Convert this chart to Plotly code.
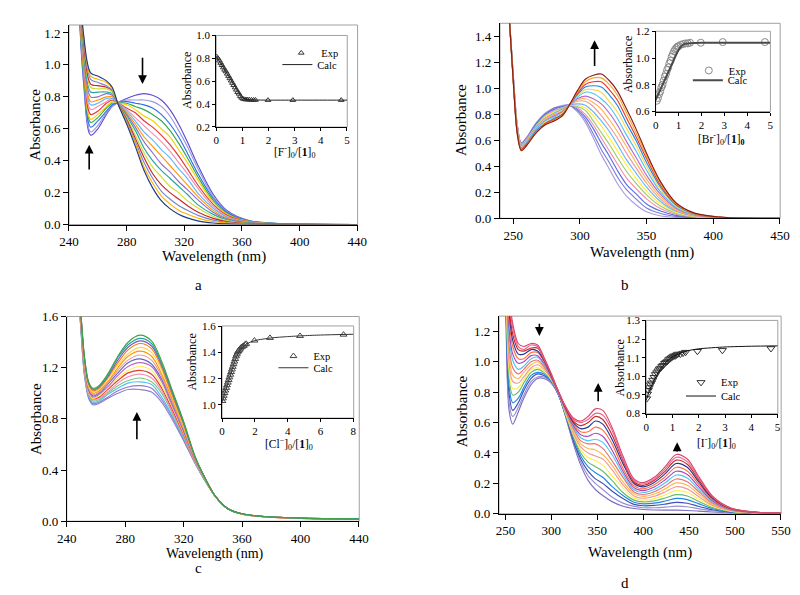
import plotly.graph_objects as go

FONT = "Liberation Serif, Times New Roman, DejaVu Serif, serif"
W, H = 800, 595

# ---------------- Panel a (F-) : rows = wavelength, columns = successive spectra
wl_a = [246, 250, 255, 260, 266, 270, 274, 280, 286, 292, 298, 304, 310, 316, 322, 330, 340, 350, 365, 390, 440]
abs_a = [
    [1.55, 1.56, 1.58, 1.59, 1.61, 1.62, 1.63, 1.65, 1.66, 1.68, 1.69, 1.70, 1.72, 1.73, 1.74, 1.75],
    [0.90, 0.92, 0.94, 0.96, 0.98, 1.01, 1.03, 1.05, 1.07, 1.09, 1.11, 1.13, 1.15, 1.17, 1.19, 1.20],
    [0.56, 0.58, 0.61, 0.64, 0.66, 0.69, 0.72, 0.75, 0.77, 0.80, 0.83, 0.86, 0.88, 0.91, 0.93, 0.95],
    [0.60, 0.62, 0.65, 0.67, 0.69, 0.71, 0.74, 0.76, 0.78, 0.80, 0.83, 0.85, 0.87, 0.89, 0.91, 0.93],
    [0.69, 0.70, 0.71, 0.73, 0.74, 0.76, 0.77, 0.79, 0.80, 0.82, 0.83, 0.85, 0.86, 0.87, 0.89, 0.90],
    [0.74, 0.74, 0.75, 0.76, 0.77, 0.78, 0.79, 0.79, 0.80, 0.81, 0.82, 0.83, 0.84, 0.84, 0.85, 0.86],
    [0.765, 0.764, 0.764, 0.763, 0.762, 0.762, 0.761, 0.760, 0.759, 0.759, 0.758, 0.757, 0.757, 0.756, 0.756, 0.755],
    [0.79, 0.78, 0.77, 0.76, 0.75, 0.73, 0.72, 0.71, 0.70, 0.69, 0.68, 0.67, 0.66, 0.65, 0.64, 0.63],
    [0.81, 0.78, 0.76, 0.74, 0.72, 0.70, 0.67, 0.65, 0.63, 0.61, 0.59, 0.56, 0.54, 0.52, 0.51, 0.49],
    [0.82, 0.78, 0.75, 0.72, 0.68, 0.65, 0.62, 0.58, 0.55, 0.52, 0.48, 0.45, 0.42, 0.39, 0.36, 0.34],
    [0.81, 0.77, 0.73, 0.69, 0.65, 0.61, 0.57, 0.53, 0.49, 0.45, 0.40, 0.36, 0.32, 0.29, 0.26, 0.23],
    [0.78, 0.74, 0.69, 0.65, 0.60, 0.56, 0.52, 0.47, 0.43, 0.38, 0.34, 0.30, 0.25, 0.21, 0.18, 0.15],
    [0.72, 0.68, 0.63, 0.59, 0.55, 0.50, 0.46, 0.42, 0.37, 0.33, 0.29, 0.24, 0.20, 0.16, 0.13, 0.10],
    [0.63, 0.59, 0.55, 0.51, 0.47, 0.43, 0.39, 0.35, 0.31, 0.27, 0.24, 0.20, 0.16, 0.12, 0.09, 0.065],
    [0.52, 0.49, 0.45, 0.42, 0.39, 0.35, 0.32, 0.29, 0.25, 0.22, 0.19, 0.15, 0.12, 0.09, 0.066, 0.042],
    [0.36, 0.34, 0.31, 0.29, 0.27, 0.24, 0.22, 0.19, 0.17, 0.15, 0.12, 0.10, 0.076, 0.056, 0.039, 0.022],
    [0.19, 0.177, 0.165, 0.152, 0.14, 0.127, 0.114, 0.102, 0.089, 0.077, 0.064, 0.051, 0.039, 0.028, 0.019, 0.01],
    [0.085, 0.079, 0.074, 0.068, 0.063, 0.057, 0.051, 0.046, 0.04, 0.035, 0.029, 0.023, 0.018, 0.013, 0.009, 0.005],
    [0.025, 0.023, 0.022, 0.02, 0.019, 0.017, 0.015, 0.014, 0.012, 0.011, 0.009, 0.007, 0.006, 0.004, 0.003, 0.002],
    [0.005, 0.005, 0.004, 0.004, 0.004, 0.004, 0.003, 0.003, 0.003, 0.003, 0.002, 0.002, 0.002, 0.002, 0.001, 0.001],
    [0.0, 0.0, 0.0, 0.0, 0.0, 0.0, 0.0, 0.0, 0.0, 0.0, 0.0, 0.0, 0.0, 0.0, 0.0, 0.0],
]
ratio_a = [0.02, 0.07, 0.12, 0.17, 0.22, 0.27, 0.32, 0.37, 0.42, 0.47, 0.52, 0.57, 0.62, 0.67, 0.72, 0.77,
           0.82, 0.87, 0.92, 0.97, 1.02, 1.08, 1.14, 1.20, 1.27, 1.35, 1.43, 1.50, 1.98, 2.93, 4.78]
exp_a = [0.815, 0.80, 0.78, 0.76, 0.74, 0.72, 0.70, 0.685, 0.665, 0.645, 0.625, 0.605, 0.585, 0.565, 0.545, 0.525,
         0.505, 0.49, 0.47, 0.455, 0.447, 0.442, 0.44, 0.44, 0.438, 0.437, 0.436, 0.436, 0.435, 0.435, 0.435]
calc_x_a = [0, 0.5, 0.9, 1.0, 1.1, 1.3, 1.6, 2.0, 3.0, 5.0]
calc_a = [0.82, 0.635, 0.49, 0.46, 0.445, 0.438, 0.436, 0.435, 0.435, 0.435]

# ---------------- Panel b (Br-)
wl_b = [246, 250, 253, 256, 260, 267, 274, 281, 287, 292, 298, 304, 310, 316, 322, 328, 335, 342, 350, 360, 372, 386, 405, 450]
abs_b = [
    [1.70, 1.70, 1.70, 1.70, 1.70, 1.70, 1.70, 1.70, 1.70, 1.70, 1.70, 1.70, 1.70, 1.70, 1.70, 1.70],
    [1.10, 1.10, 1.09, 1.09, 1.09, 1.08, 1.08, 1.08, 1.07, 1.07, 1.07, 1.06, 1.06, 1.06, 1.05, 1.05],
    [0.72, 0.72, 0.71, 0.71, 0.70, 0.70, 0.69, 0.69, 0.68, 0.68, 0.67, 0.67, 0.66, 0.66, 0.65, 0.65],
    [0.58, 0.58, 0.57, 0.57, 0.56, 0.56, 0.56, 0.55, 0.55, 0.54, 0.54, 0.53, 0.53, 0.53, 0.52, 0.52],
    [0.62, 0.62, 0.61, 0.61, 0.60, 0.60, 0.60, 0.59, 0.59, 0.58, 0.58, 0.57, 0.57, 0.57, 0.56, 0.56],
    [0.73, 0.73, 0.72, 0.71, 0.71, 0.70, 0.70, 0.69, 0.69, 0.68, 0.68, 0.67, 0.67, 0.66, 0.66, 0.655],
    [0.81, 0.80, 0.80, 0.79, 0.79, 0.78, 0.77, 0.77, 0.76, 0.75, 0.75, 0.74, 0.73, 0.73, 0.72, 0.72],
    [0.85, 0.85, 0.84, 0.83, 0.82, 0.82, 0.81, 0.80, 0.80, 0.79, 0.78, 0.77, 0.77, 0.76, 0.755, 0.75],
    [0.87, 0.86, 0.86, 0.85, 0.85, 0.84, 0.84, 0.83, 0.82, 0.82, 0.81, 0.81, 0.80, 0.80, 0.79, 0.79],
    [0.87, 0.87, 0.87, 0.87, 0.87, 0.87, 0.87, 0.87, 0.87, 0.87, 0.87, 0.87, 0.87, 0.87, 0.87, 0.87],
    [0.82, 0.83, 0.84, 0.85, 0.86, 0.87, 0.88, 0.90, 0.91, 0.92, 0.93, 0.94, 0.95, 0.96, 0.97, 0.98],
    [0.74, 0.76, 0.78, 0.80, 0.83, 0.85, 0.87, 0.90, 0.92, 0.94, 0.97, 0.99, 1.01, 1.03, 1.05, 1.07],
    [0.62, 0.65, 0.69, 0.72, 0.75, 0.79, 0.82, 0.86, 0.89, 0.92, 0.96, 0.99, 1.02, 1.05, 1.08, 1.10],
    [0.49, 0.53, 0.58, 0.62, 0.66, 0.71, 0.75, 0.79, 0.84, 0.88, 0.92, 0.97, 1.01, 1.05, 1.08, 1.11],
    [0.38, 0.43, 0.48, 0.52, 0.57, 0.62, 0.67, 0.71, 0.76, 0.81, 0.86, 0.90, 0.95, 0.99, 1.03, 1.06],
    [0.27, 0.32, 0.37, 0.42, 0.47, 0.52, 0.57, 0.62, 0.67, 0.72, 0.77, 0.82, 0.87, 0.91, 0.95, 0.98],
    [0.17, 0.22, 0.26, 0.31, 0.36, 0.41, 0.45, 0.50, 0.55, 0.59, 0.64, 0.69, 0.73, 0.77, 0.81, 0.84],
    [0.105, 0.15, 0.19, 0.23, 0.27, 0.31, 0.35, 0.39, 0.43, 0.47, 0.52, 0.56, 0.60, 0.63, 0.66, 0.69],
    [0.05, 0.08, 0.11, 0.15, 0.18, 0.21, 0.24, 0.27, 0.30, 0.33, 0.37, 0.40, 0.43, 0.46, 0.48, 0.50],
    [0.02, 0.039, 0.058, 0.077, 0.096, 0.115, 0.133, 0.152, 0.171, 0.19, 0.209, 0.228, 0.247, 0.263, 0.277, 0.29],
    [0.007, 0.015, 0.023, 0.031, 0.039, 0.047, 0.054, 0.062, 0.07, 0.078, 0.086, 0.094, 0.102, 0.109, 0.114, 0.12],
    [0.002, 0.005, 0.007, 0.01, 0.013, 0.015, 0.018, 0.021, 0.023, 0.026, 0.029, 0.031, 0.034, 0.036, 0.038, 0.04],
    [0.0, 0.001, 0.001, 0.002, 0.003, 0.004, 0.004, 0.005, 0.006, 0.006, 0.007, 0.008, 0.008, 0.009, 0.01, 0.01],
    [0.0, 0.0, 0.0, 0.0, 0.0, 0.0, 0.0, 0.0, 0.0, 0.0, 0.0, 0.0, 0.0, 0.0, 0.0, 0.0],
]
ratio_b = [0.05, 0.10, 0.15, 0.20, 0.25, 0.30, 0.35, 0.40, 0.45, 0.50, 0.55, 0.60, 0.65, 0.70, 0.75, 0.80,
           0.85, 0.90, 0.95, 1.00, 1.10, 1.20, 1.30, 1.40, 1.50, 1.97, 2.93, 4.77]
exp_b = [0.68, 0.70, 0.73, 0.75, 0.78, 0.80, 0.83, 0.86, 0.88, 0.91, 0.93, 0.96, 0.98, 1.01, 1.03, 1.05,
         1.065, 1.075, 1.085, 1.09, 1.10, 1.105, 1.11, 1.11, 1.115, 1.115, 1.12, 1.12]
calc_x_b = [0, 0.25, 0.5, 0.75, 1.0, 1.1, 1.2, 1.3, 1.5, 2.0, 3.0, 5.0]
calc_b = [0.685, 0.78, 0.875, 0.97, 1.06, 1.085, 1.10, 1.107, 1.112, 1.115, 1.115, 1.115]

# ---------------- Panel c (Cl-)
wl_c = [246, 249, 252, 255, 258, 262, 268, 275, 282, 290, 298, 305, 312, 320, 328, 335, 342, 350, 360, 375, 400, 440]
abs_c = [
    [1.90, 1.90, 1.90, 1.90, 1.90, 1.90, 1.90, 1.90, 1.90, 1.90, 1.90, 1.90, 1.90, 1.90, 1.90, 1.90],
    [1.60, 1.61, 1.61, 1.62, 1.63, 1.64, 1.64, 1.65, 1.66, 1.66, 1.67, 1.68, 1.68, 1.69, 1.70, 1.70],
    [1.15, 1.16, 1.17, 1.18, 1.19, 1.20, 1.21, 1.22, 1.23, 1.24, 1.26, 1.27, 1.28, 1.29, 1.29, 1.30],
    [0.96, 0.97, 0.98, 0.99, 1.00, 1.01, 1.01, 1.02, 1.03, 1.04, 1.05, 1.06, 1.07, 1.08, 1.08, 1.09],
    [0.91, 0.92, 0.93, 0.94, 0.95, 0.96, 0.96, 0.97, 0.98, 0.99, 1.00, 1.01, 1.02, 1.03, 1.03, 1.04],
    [0.92, 0.93, 0.94, 0.95, 0.96, 0.97, 0.98, 0.99, 1.00, 1.01, 1.02, 1.03, 1.04, 1.05, 1.05, 1.06],
    [0.96, 0.97, 0.99, 1.00, 1.01, 1.03, 1.04, 1.05, 1.07, 1.08, 1.09, 1.11, 1.12, 1.13, 1.14, 1.15],
    [1.00, 1.02, 1.04, 1.06, 1.08, 1.10, 1.12, 1.14, 1.16, 1.18, 1.20, 1.22, 1.24, 1.26, 1.28, 1.29],
    [1.03, 1.05, 1.08, 1.10, 1.13, 1.16, 1.18, 1.21, 1.24, 1.26, 1.29, 1.31, 1.34, 1.36, 1.38, 1.40],
    [1.03, 1.06, 1.09, 1.12, 1.15, 1.18, 1.21, 1.24, 1.27, 1.30, 1.33, 1.36, 1.39, 1.41, 1.43, 1.455],
    [1.01, 1.04, 1.07, 1.09, 1.12, 1.15, 1.18, 1.21, 1.23, 1.26, 1.29, 1.32, 1.35, 1.37, 1.39, 1.41],
    [0.93, 0.95, 0.97, 1.00, 1.02, 1.04, 1.06, 1.09, 1.11, 1.13, 1.15, 1.18, 1.20, 1.22, 1.23, 1.25],
    [0.80, 0.82, 0.83, 0.85, 0.86, 0.88, 0.90, 0.91, 0.93, 0.94, 0.96, 0.98, 0.99, 1.01, 1.02, 1.03],
    [0.63, 0.64, 0.65, 0.66, 0.67, 0.68, 0.69, 0.70, 0.71, 0.72, 0.735, 0.745, 0.756, 0.765, 0.773, 0.78],
    [0.45, 0.45, 0.46, 0.46, 0.46, 0.47, 0.47, 0.47, 0.48, 0.48, 0.485, 0.49, 0.49, 0.495, 0.50, 0.50],
    [0.31, 0.31, 0.31, 0.31, 0.32, 0.32, 0.32, 0.32, 0.32, 0.32, 0.32, 0.33, 0.33, 0.33, 0.33, 0.33],
    [0.19, 0.19, 0.19, 0.19, 0.19, 0.19, 0.19, 0.19, 0.19, 0.19, 0.19, 0.19, 0.19, 0.19, 0.19, 0.19],
    [0.10, 0.10, 0.10, 0.10, 0.10, 0.10, 0.10, 0.10, 0.10, 0.10, 0.10, 0.10, 0.10, 0.10, 0.10, 0.10],
    [0.055, 0.055, 0.055, 0.056, 0.056, 0.056, 0.056, 0.056, 0.057, 0.057, 0.057, 0.057, 0.057, 0.058, 0.058, 0.058],
    [0.035, 0.035, 0.035, 0.035, 0.036, 0.036, 0.036, 0.036, 0.036, 0.036, 0.036, 0.037, 0.037, 0.037, 0.037, 0.037],
    [0.022, 0.022, 0.022, 0.022, 0.023, 0.023, 0.023, 0.023, 0.023, 0.023, 0.023, 0.024, 0.024, 0.024, 0.024, 0.024],
    [0.015, 0.015, 0.015, 0.016, 0.016, 0.016, 0.016, 0.016, 0.017, 0.017, 0.017, 0.017, 0.017, 0.018, 0.018, 0.018],
]
ratio_c = [0.02, 0.06, 0.10, 0.15, 0.20, 0.25, 0.30, 0.35, 0.40, 0.45, 0.50, 0.55, 0.60, 0.65, 0.70, 0.75,
           0.80, 0.85, 0.90, 0.95, 1.00, 1.06, 1.12, 1.18, 1.25, 1.32, 1.40, 1.47, 1.97, 2.92, 4.75, 7.40]
exp_c = [1.03, 1.05, 1.07, 1.09, 1.11, 1.13, 1.15, 1.17, 1.19, 1.21, 1.23, 1.25, 1.27, 1.29, 1.31, 1.33,
         1.35, 1.37, 1.385, 1.40, 1.41, 1.42, 1.43, 1.44, 1.445, 1.45, 1.46, 1.465, 1.49, 1.51, 1.525, 1.535]
calc_x_c = [0, 0.25, 0.5, 0.75, 1.0, 1.25, 1.5, 2, 3, 4, 5, 6, 8]
calc_c = [1.02, 1.12, 1.22, 1.32, 1.40, 1.44, 1.465, 1.49, 1.51, 1.52, 1.527, 1.532, 1.538]

# ---------------- Panel d (I-)
wl_d = [246, 250, 254, 258, 264, 270, 278, 285, 292, 300, 308, 316, 324, 332, 340, 348, 356, 366, 378, 390,
        400, 412, 424, 436, 448, 460, 475, 495, 520, 550]
abs_d = [
    [2.00, 2.01, 2.03, 2.04, 2.06, 2.07, 2.08, 2.10, 2.11, 2.13, 2.14, 2.15, 2.17, 2.18, 2.19, 2.20],
    [1.45, 1.47, 1.50, 1.52, 1.55, 1.57, 1.60, 1.62, 1.65, 1.67, 1.70, 1.72, 1.74, 1.77, 1.78, 1.80],
    [0.68, 0.73, 0.79, 0.84, 0.90, 0.95, 1.00, 1.06, 1.11, 1.17, 1.22, 1.27, 1.33, 1.37, 1.41, 1.45],
    [0.59, 0.64, 0.68, 0.73, 0.78, 0.82, 0.87, 0.91, 0.96, 1.01, 1.05, 1.10, 1.14, 1.18, 1.22, 1.25],
    [0.67, 0.70, 0.73, 0.76, 0.80, 0.83, 0.86, 0.89, 0.92, 0.95, 0.99, 1.02, 1.05, 1.08, 1.10, 1.12],
    [0.76, 0.78, 0.81, 0.83, 0.86, 0.88, 0.90, 0.93, 0.95, 0.97, 1.00, 1.02, 1.05, 1.07, 1.08, 1.10],
    [0.85, 0.87, 0.89, 0.91, 0.93, 0.95, 0.96, 0.98, 1.00, 1.02, 1.04, 1.06, 1.08, 1.09, 1.11, 1.12],
    [0.89, 0.90, 0.92, 0.93, 0.95, 0.96, 0.98, 1.00, 1.01, 1.03, 1.04, 1.06, 1.07, 1.09, 1.10, 1.11],
    [0.89, 0.90, 0.91, 0.92, 0.93, 0.94, 0.95, 0.96, 0.97, 0.98, 0.99, 1.00, 1.01, 1.02, 1.02, 1.03],
    [0.86, 0.86, 0.87, 0.87, 0.88, 0.88, 0.89, 0.89, 0.89, 0.90, 0.90, 0.91, 0.91, 0.91, 0.92, 0.92],
    [0.78, 0.78, 0.78, 0.78, 0.79, 0.79, 0.79, 0.79, 0.79, 0.79, 0.79, 0.80, 0.80, 0.80, 0.80, 0.80],
    [0.63, 0.63, 0.64, 0.64, 0.65, 0.65, 0.66, 0.66, 0.67, 0.67, 0.68, 0.68, 0.69, 0.69, 0.70, 0.70],
    [0.46, 0.47, 0.48, 0.50, 0.51, 0.52, 0.53, 0.54, 0.56, 0.57, 0.58, 0.59, 0.60, 0.61, 0.62, 0.63],
    [0.32, 0.34, 0.36, 0.38, 0.40, 0.42, 0.44, 0.46, 0.48, 0.50, 0.52, 0.54, 0.56, 0.58, 0.60, 0.61],
    [0.22, 0.25, 0.28, 0.31, 0.34, 0.37, 0.40, 0.43, 0.46, 0.48, 0.51, 0.54, 0.57, 0.60, 0.62, 0.64],
    [0.16, 0.20, 0.23, 0.27, 0.31, 0.35, 0.38, 0.42, 0.46, 0.49, 0.53, 0.57, 0.61, 0.64, 0.66, 0.69],
    [0.12, 0.16, 0.20, 0.24, 0.28, 0.32, 0.36, 0.39, 0.43, 0.47, 0.51, 0.55, 0.59, 0.62, 0.65, 0.68],
    [0.08, 0.11, 0.15, 0.18, 0.22, 0.25, 0.29, 0.32, 0.35, 0.39, 0.42, 0.46, 0.49, 0.52, 0.55, 0.57],
    [0.05, 0.07, 0.10, 0.12, 0.14, 0.17, 0.19, 0.21, 0.24, 0.26, 0.28, 0.30, 0.33, 0.35, 0.36, 0.38],
    [0.035, 0.049, 0.062, 0.076, 0.090, 0.103, 0.117, 0.131, 0.144, 0.158, 0.172, 0.185, 0.199, 0.211, 0.220, 0.23],
    [0.028, 0.04, 0.053, 0.065, 0.078, 0.09, 0.102, 0.115, 0.127, 0.14, 0.152, 0.164, 0.177, 0.187, 0.196, 0.205],
    [0.025, 0.04, 0.055, 0.07, 0.085, 0.10, 0.115, 0.13, 0.145, 0.16, 0.176, 0.191, 0.206, 0.219, 0.229, 0.24],
    [0.024, 0.044, 0.064, 0.084, 0.104, 0.124, 0.144, 0.164, 0.184, 0.204, 0.224, 0.244, 0.264, 0.281, 0.296, 0.31],
    [0.024, 0.05, 0.075, 0.101, 0.126, 0.152, 0.178, 0.203, 0.229, 0.255, 0.28, 0.306, 0.331, 0.353, 0.372, 0.39],
    [0.022, 0.046, 0.069, 0.093, 0.117, 0.14, 0.164, 0.188, 0.211, 0.235, 0.259, 0.282, 0.306, 0.326, 0.343, 0.36],
    [0.018, 0.034, 0.05, 0.067, 0.083, 0.099, 0.115, 0.132, 0.148, 0.164, 0.18, 0.197, 0.213, 0.227, 0.238, 0.25],
    [0.012, 0.02, 0.027, 0.035, 0.042, 0.05, 0.057, 0.065, 0.072, 0.08, 0.088, 0.095, 0.103, 0.109, 0.115, 0.12],
    [0.006, 0.008, 0.011, 0.013, 0.016, 0.018, 0.02, 0.023, 0.025, 0.027, 0.03, 0.032, 0.035, 0.037, 0.038, 0.04],
    [0.003, 0.004, 0.004, 0.005, 0.006, 0.006, 0.007, 0.007, 0.008, 0.009, 0.009, 0.01, 0.011, 0.011, 0.012, 0.012],
    [0.001, 0.001, 0.001, 0.002, 0.002, 0.002, 0.002, 0.002, 0.003, 0.003, 0.003, 0.003, 0.004, 0.004, 0.004, 0.004],
]
ratio_d = [0.02, 0.05, 0.08, 0.12, 0.16, 0.20, 0.25, 0.30, 0.35, 0.40, 0.45, 0.50, 0.55, 0.60, 0.65, 0.70,
           0.75, 0.80, 0.85, 0.90, 0.95, 1.00, 1.05, 1.10, 1.15, 1.20, 1.30, 1.40, 1.50, 1.95, 2.90, 4.75]
exp_d = [0.88, 0.905, 0.925, 0.94, 0.955, 0.965, 0.98, 0.995, 1.01, 1.02, 1.03, 1.04, 1.045, 1.055, 1.06, 1.07,
         1.075, 1.08, 1.09, 1.095, 1.10, 1.105, 1.11, 1.11, 1.115, 1.12, 1.12, 1.125, 1.13, 1.135, 1.14, 1.15]
calc_x_d = [0, 0.1, 0.2, 0.3, 0.5, 0.75, 1.0, 1.5, 2, 3, 4, 5]
calc_d = [0.87, 0.915, 0.95, 0.98, 1.03, 1.075, 1.105, 1.135, 1.148, 1.158, 1.162, 1.164]

PAL_A = ['#5b4fcf', '#9d96e3', '#2c6fe8', '#34a853', '#f4d000', '#e53935', '#f48fb1', '#64b5f6',
         '#ff9800', '#8e6cc9', '#26a69a', '#cddc39', '#c62828', '#7986cb', '#ffb300', '#1e3a8a']
PAL_B = ['#a89be0', '#7b7fd8', '#5d6fe0', '#f48fb1', '#9ccc65', '#ffeb3b', '#64b5f6', '#ef9a9a',
         '#ffb74d', '#ba68c8', '#4fc3f7', '#ffd54f', '#1e88e5', '#e53935', '#f9a825', '#8b1a1a']
PAL_C = ['#8a84c8', '#9575cd', '#4fc3f7', '#81c784', '#f48fb1', '#e53935', '#ffee58', '#ba68c8',
         '#5c6bc0', '#ef9a9a', '#ff9800', '#ffd54f', '#f57f17', '#7e57c2', '#26a69a', '#43a047']
PAL_D = ['#7e6fc2', '#9a8fd6', '#3f51b5', '#1e88e5', '#66bb6a', '#ffee58', '#ef9a9a', '#ffb74d',
         '#e57373', '#4fc3f7', '#ab47bc', '#ff7043', '#283593', '#c62828', '#f06292', '#d84a6a']

fig = go.Figure()


def add_spectra(wl, table, n, pal):
    xa = 'x' if n == 1 else f'x{n}'
    ya = 'y' if n == 1 else f'y{n}'
    for k in range(len(table[0])):
        fig.add_trace(go.Scatter(x=wl, y=[row[k] for row in table], mode='lines',
                                 line=dict(color=pal[k % len(pal)], width=1.15, shape='spline', smoothing=0.9),
                                 xaxis=xa, yaxis=ya, showlegend=False, hoverinfo='skip'))


def add_inset(n, rx, ry, cx, cy, symbol, msize, mcolor, lcolor, lwidth, leg_e, leg_c):
    xa, ya = f'x{n}', f'y{n}'
    fig.add_trace(go.Scatter(x=rx, y=ry, mode='markers', name='Exp', legend=leg_e,
                             marker=dict(symbol=symbol, size=msize, color=mcolor, line=dict(color=mcolor, width=1)),
                             xaxis=xa, yaxis=ya))
    fig.add_trace(go.Scatter(x=cx, y=cy, mode='lines', name='Calc', legend=leg_c,
                             line=dict(color=lcolor, width=lwidth, shape='spline', smoothing=0.6),
                             xaxis=xa, yaxis=ya))


add_spectra(wl_a, abs_a, 1, PAL_A)
add_spectra(wl_b, abs_b, 3, PAL_B)
add_spectra(wl_c, abs_c, 5, PAL_C)
add_spectra(wl_d, abs_d, 7, PAL_D)
add_inset(2, ratio_a, exp_a, calc_x_a, calc_a, 'triangle-up-open', 5, '#333333', '#222222', 1, 'legend', 'legend2')
add_inset(4, ratio_b, exp_b, calc_x_b, calc_b, 'circle-open', 7, '#8a8a8a', '#4a4a4a', 2, 'legend3', 'legend4')
add_inset(6, ratio_c, exp_c, calc_x_c, calc_c, 'triangle-up-open', 6, '#444444', '#333333', 1, 'legend5', 'legend6')
add_inset(8, ratio_d, exp_d, calc_x_d, calc_d, 'triangle-down-open', 7, '#333333', '#111111', 1, 'legend7', 'legend8')

layout = dict(width=W, height=H, margin=dict(l=0, r=0, t=0, b=0), paper_bgcolor='white',
              plot_bgcolor='rgba(0,0,0,0)', font=dict(family=FONT, color='black'))


def px_dom_x(a, b):
    return [a / W, b / W]


def px_dom_y(top, bottom):
    return [1 - bottom / H, 1 - top / H]


def set_axes(n, xdom, ydom, xr, yr, xdt, ydt, fs, ticklen, xtick0=None, ytick0=None):
    xs = 'xaxis' if n == 1 else f'xaxis{n}'
    ys = 'yaxis' if n == 1 else f'yaxis{n}'
    common = dict(showline=True, linecolor='black', linewidth=1, ticks='outside', ticklen=ticklen,
                  tickwidth=1, tickcolor='black', showgrid=False, zeroline=False,
                  tickfont=dict(family=FONT, size=fs, color='black'))
    layout[xs] = dict(domain=xdom, range=xr, dtick=xdt, tick0=xtick0,
                      anchor='y' if n == 1 else f'y{n}', **common)
    layout[ys] = dict(domain=ydom, range=yr, dtick=ydt, tick0=ytick0, tickformat='.1f',
                      anchor='x' if n == 1 else f'x{n}', **common)


# main panels
set_axes(1, px_dom_x(52.3, 348.3), px_dom_y(10.25, 215), [240, 440.2], [0, 1.25], 40, 0.2, 13, 5)
set_axes(3, px_dom_x(494.3, 781.7), px_dom_y(8.5, 208.6), [240, 450.2], [0, 1.5], 50, 0.2, 13, 5, 250)
set_axes(5, px_dom_x(50, 350), px_dom_y(309.3, 519.3), [240, 440.2], [0, 1.601], 40, 0.4, 13, 5)
set_axes(7, px_dom_x(493.3, 782.7), px_dom_y(308.9, 511.7), [243, 550.2], [0, 1.3], 50, 0.2, 13, 5, 250)
# insets
set_axes(2, px_dom_x(203.3, 337.7), px_dom_y(21, 115), [0, 5.01], [0.199, 1.001], 1, 0.2, 11, 3)
set_axes(4, px_dom_x(654, 771.7), px_dom_y(16.7, 99), [0, 5.01], [0.599, 1.201], 1, 0.2, 11, 3)
set_axes(6, px_dom_x(209.3, 344.3), px_dom_y(319, 413.5), [0, 8.02], [0.9, 1.601], 2, 0.2, 11, 3)
set_axes(8, px_dom_x(644.3, 779.3), px_dom_y(313.3, 409), [0, 5.01], [0.799, 1.301], 1, 0.1, 11, 3)

# gray frames (top / right sides appear gray in the original)
shapes = []
for n in range(1, 9):
    xr = 'x domain' if n == 1 else f'x{n} domain'
    yr = 'y domain' if n == 1 else f'y{n} domain'
    shapes.append(dict(type='rect', xref=xr, yref=yr, x0=0, x1=1, y0=0, y1=1,
                       line=dict(color='#a0a0a0', width=1), layer='below'))
layout['shapes'] = shapes


def ann(text, xpx, ypx, size, angle=0):
    return dict(x=xpx / W, y=1 - ypx / H, xref='paper', yref='paper', text=text, showarrow=False,
                textangle=angle, xanchor='center', yanchor='middle',
                font=dict(family=FONT, size=size, color='black'))


def arrow(n, x, y0, y1):
    xa = 'x' if n == 1 else f'x{n}'
    ya = 'y' if n == 1 else f'y{n}'
    return dict(x=x, y=y1, ax=x, ay=y0, xref=xa, yref=ya, axref=xa, ayref=ya, text='',
                showarrow=True, arrowhead=2, arrowsize=1.1, arrowwidth=1.6, arrowcolor='black')


anns = [
    ann('Wavelength (nm)', 201, 248, 15), ann('Absorbance', 18, 113, 15, -90),
    ann('Wavelength (nm)', 640, 243.3, 15), ann('Absorbance', 455, 108, 15, -90),
    ann('Wavelength (nm)', 202, 553, 14), ann('Absorbance', 18, 415, 15, -90),
    ann('Wavelength (nm)', 638, 551.7, 15), ann('Absorbance', 455, 407, 15, -90),
    ann('Absorbance', 174, 67, 12, -90), ann('[F<sup>-</sup>]<sub>0</sub>/[<b>1</b>]<sub>0</sub>', 284, 141, 11.5),
    ann('Absorbance', 625, 51, 12, -90), ann('[Br<sup>-</sup>]<sub>0</sub>/[<b>1</b>]<sub><b>0</b></sub>', 722, 127, 11.5),
    ann('Absorbance', 178, 356, 12, -90), ann('[Cl<sup>−</sup>]<sub>0</sub>/[<b>1</b>]<sub>0</sub>', 278, 440, 11.5),
    ann('Absorbance', 617, 362, 12, -90), ann('[I<sup>-</sup>]<sub>0</sub>/[<b>1</b>]<sub>0</sub>', 716, 439, 11.5),
    ann('a', 185, 277, 15), ann('b', 622.7, 277, 15), ann('c', 185, 567, 15), ann('d', 622.7, 583, 15),
    arrow(1, 291, 1.055, 0.88), arrow(1, 254, 0.335, 0.50),
    arrow(3, 311, 1.16, 1.37),
    arrow(5, 288, 0.63, 0.855),
    arrow(7, 287, 1.26, 1.17), arrow(7, 351, 0.73, 0.86), arrow(7, 437, 0.40, 0.47),
]
layout['annotations'] = anns


def leg(xpx, ypx):
    return dict(x=xpx / W, y=1 - ypx / H, xanchor='left', yanchor='top', bgcolor='rgba(0,0,0,0)',
                borderwidth=0, font=dict(family=FONT, size=10.5, color='black'), itemwidth=30,
                tracegroupgap=0, itemclick=False)


layout['legend'] = leg(270, 24)
layout['legend2'] = leg(266, 36)
layout['legend3'] = leg(688, 42)
layout['legend4'] = leg(687, 52)
layout['legend5'] = leg(262, 335)
layout['legend6'] = leg(262, 347)
layout['legend7'] = leg(680, 362)
layout['legend8'] = leg(680, 376)

fig.update_layout(**layout)
fig.write_html("out.html")
